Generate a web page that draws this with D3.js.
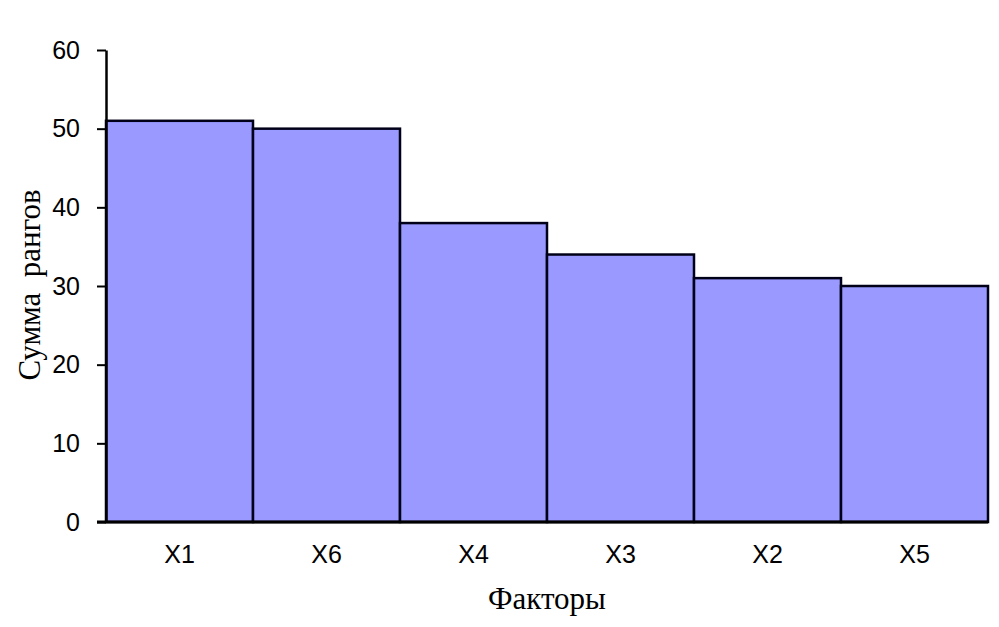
<!DOCTYPE html>
<html>
<head>
<meta charset="utf-8">
<script src="https://cdn.jsdelivr.net/npm/d3@7"></script>
<style>
  body { margin: 0; background: #fff; }
</style>
</head>
<body>
<div id="chart"></div>
<script>
// data
const factors = ['X1', 'X6', 'X4', 'X3', 'X2', 'X5'];
const rankSums = [51, 50, 38, 34, 31, 30];
const yTicks = [0, 10, 20, 30, 40, 50, 60];

const width = 999, height = 627;
const margin = { left: 106, right: 11, top: 50, bottom: 105 };

const svg = d3.select('#chart').append('svg')
  .attr('width', width)
  .attr('height', height);

const x = d3.scaleBand()
  .domain(factors)
  .range([margin.left, width - margin.right])
  .padding(0);

const y = d3.scaleLinear()
  .domain([0, 60])
  .range([height - margin.bottom, margin.top]);

// bars
svg.selectAll('.bar')
  .data(factors.map((f, i) => ({ name: f, value: rankSums[i] })))
  .enter().append('rect')
  .attr('class', 'bar')
  .attr('x', d => x(d.name))
  .attr('y', d => y(d.value))
  .attr('width', x.bandwidth())
  .attr('height', d => y(0) - y(d.value))
  .attr('fill', '#9999ff')
  .attr('stroke', '#000018')
  .attr('stroke-width', 2.5);

// y axis
const yAxis = svg.append('g')
  .attr('transform', `translate(${margin.left},0)`)
  .call(d3.axisLeft(y).tickValues(yTicks).tickSize(9).tickPadding(17).tickSizeOuter(0));

yAxis.select('.domain').attr('stroke', '#000').attr('stroke-width', 2.5);
yAxis.selectAll('.tick line').attr('stroke', '#000').attr('stroke-width', 2);
yAxis.selectAll('.tick text')
  .style('font-family', 'Arial, "Liberation Sans", sans-serif')
  .style('font-size', '25px')
  .attr('fill', '#000');

// x axis
const xAxis = svg.append('g')
  .attr('transform', `translate(0,${y(0)})`)
  .call(d3.axisBottom(x).tickSize(0).tickPadding(23).tickSizeOuter(0));

xAxis.select('.domain')
  .attr('d', `M${margin.left - 9},0H${width - margin.right}`)
  .attr('stroke', '#000')
  .attr('stroke-width', 3);
xAxis.selectAll('.tick text')
  .style('font-family', 'Arial, "Liberation Sans", sans-serif')
  .style('font-size', '25px')
  .attr('fill', '#000')
  .attr('dy', '0.71em');

// axis titles
svg.append('text')
  .attr('x', (margin.left + width - margin.right) / 2)
  .attr('y', 609)
  .attr('text-anchor', 'middle')
  .style('font-family', '"Times New Roman", "Liberation Serif", serif')
  .style('font-size', '31px')
  .attr('fill', '#000')
  .text('Факторы');

svg.append('text')
  .attr('transform', 'translate(40,285) rotate(-90)')
  .attr('text-anchor', 'middle')
  .style('font-family', '"Times New Roman", "Liberation Serif", serif')
  .style('font-size', '31px')
  .attr('fill', '#000')
  .style('white-space', 'pre')
  .text('Сумма  рангов');
</script>
</body>
</html>
